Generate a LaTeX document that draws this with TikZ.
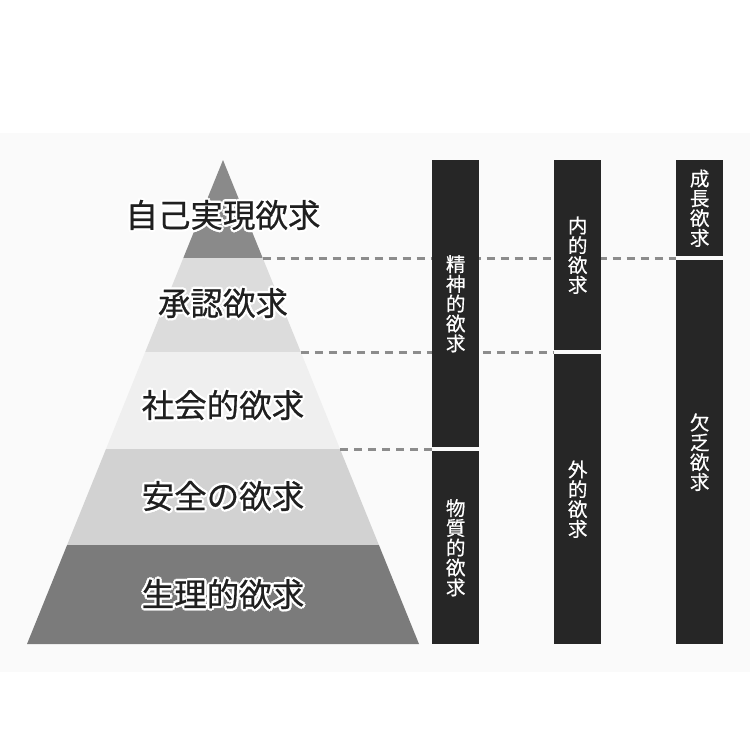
\documentclass[tikz,border=0pt]{standalone}
\usepackage{fontspec}
\setmainfont{Noto Sans CJK JP}
\newfontfamily\jpbold[FakeBold=0.6]{Noto Sans CJK JP}
\definecolor{band}{HTML}{FAFAFA}
\definecolor{lvA}{HTML}{8A8A8A}
\definecolor{lvB}{HTML}{DCDCDC}
\definecolor{lvC}{HTML}{EFEFEF}
\definecolor{lvD}{HTML}{D2D2D2}
\definecolor{lvE}{HTML}{7B7B7B}
\definecolor{barc}{HTML}{262626}
\definecolor{dashc}{HTML}{8C8C8C}
\tikzset{
  lab/.style={inner sep=0pt, font=\jpbold\fontsize{32.5}{32.5}\selectfont, text=black!88},
  barseg/.style={fill=barc, draw=none, anchor=north west, inner sep=0pt, minimum width=47pt},
  bartxt/.style={inner sep=0pt, text=white, align=center, font=\jpbold\fontsize{19.5}{19.8}\selectfont},
  dline/.style={draw=dashc, line width=3pt, dash pattern=on 8pt off 6pt},
}
\newcommand{\pylabel}[3]{%
  \foreach \a in {0,45,...,315}{\node[lab,text=white] at ([shift={(\a:2.4)}]223,#2) {#3};}
  \node[lab] (#1) at (223,#2) {#3};}
\begin{document}
\begin{tikzpicture}[x=1pt,y=-1pt]
\useasboundingbox (0,0) rectangle (750,750);
\fill[white] (0,0) rectangle (750,750);
\fill[band] (0,133) rectangle (750,672);
% pyramid layers
\fill[lvA] (223,160) -- (262.7,258) -- (183.3,258) -- cycle;
\fill[lvB] (183.3,258) -- (262.7,258) -- (300.8,352) -- (145.2,352) -- cycle;
\fill[lvC] (145.2,352) -- (300.8,352) -- (340.0,449) -- (106.0,449) -- cycle;
\fill[lvD] (106.0,449) -- (340.0,449) -- (378.9,545) -- (67.1,545) -- cycle;
\fill[lvE] (67.1,545) -- (378.9,545) -- (419,644) -- (27,644) -- cycle;
\coordinate (py1) at (262.7,258);
\coordinate (py2) at (300.8,352);
\coordinate (py3) at (340.0,449);
% bar segments (named)
\path (432,160) node[barseg, minimum height=287pt] (b1a) {}
      (432,451) node[barseg, minimum height=193pt] (b1b) {}
      (554,160) node[barseg, minimum height=190pt] (b2a) {}
      (554,354) node[barseg, minimum height=290pt] (b2b) {}
      (676,160) node[barseg, minimum height=96pt] (b3a) {}
      (676,260) node[barseg, minimum height=384pt] (b3b) {};
% dashed guide lines
\draw[dline] (py1) -- (py1 -| b3b.west);
\draw[dline] (py2) -- (py2 -| b2b.west);
\draw[dline] (py3) -- (py3 -| b1b.west);
% bars on top of dashes
\foreach \b in {b1a,b1b,b2a,b2b,b3a,b3b}{\fill[barc] (\b.north west) rectangle (\b.south east);}
% bar texts
\node[bartxt] (t1a) at (b1a.center) {精\\神\\的\\欲\\求};
\node[bartxt] (t1b) at (b1b.center) {物\\質\\的\\欲\\求};
\node[bartxt] (t2a) at (b2a.center) {内\\的\\欲\\求};
\node[bartxt] (t2b) at (b2b.center) {外\\的\\欲\\求};
\node[bartxt] (t3a) at (b3a.center) {成\\長\\欲\\求};
\node[bartxt] (t3b) at (b3b.center) {欠\\乏\\欲\\求};
% pyramid labels
\pylabel{l1}{215}{自己実現欲求}
\pylabel{l2}{303}{承認欲求}
\pylabel{l3}{405}{社会的欲求}
\pylabel{l4}{496}{安全の欲求}
\pylabel{l5}{594}{生理的欲求}
\end{tikzpicture}
\end{document}
